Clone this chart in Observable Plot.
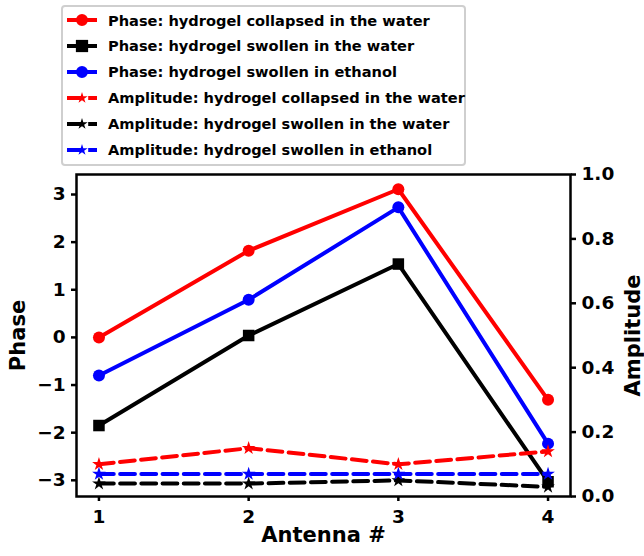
<!DOCTYPE html>
<html>
<head>
<meta charset="utf-8">
<script src="https://cdn.jsdelivr.net/npm/d3@7"></script>
<script src="https://cdn.jsdelivr.net/npm/@observablehq/plot@0.6"></script>
<style>
  html, body { margin: 0; padding: 0; background: #fff; }
  #wrap { position: relative; width: 644px; height: 556px; font-family: "DejaVu Sans", sans-serif; font-weight: bold; }
  #legend { position: absolute; left: 61px; top: 5px; width: 401px; height: 157px; border: 2px solid #cfcfcf; border-radius: 4px; background: #fff; }
  .row { position: absolute; left: 0; height: 26px; display: flex; align-items: center; }
  .row svg { margin-left: 3px; }
  .row span { margin-left: 10px; font-size: 14.6px; font-weight: bold; color: #000; white-space: nowrap; }
</style>
</head>
<body>
<div id="wrap"><div id="chart"></div><div id="legend"></div></div>
<script>
const antennas = [1, 2, 3, 4];
const phaseCollapsedWater = [0.0, 1.82, 3.11, -1.31];
const phaseSwollenWater = [-1.85, 0.04, 1.54, -3.03];
const phaseSwollenEthanol = [-0.80, 0.79, 2.73, -2.23];
const ampCollapsedWater = [0.10, 0.15, 0.10, 0.14];
const ampSwollenWater = [0.04, 0.04, 0.05, 0.03];
const ampSwollenEthanol = [0.07, 0.07, 0.07, 0.07];
const seriesLabels = [
  "Phase: hydrogel collapsed in the water",
  "Phase: hydrogel swollen in the water",
  "Phase: hydrogel swollen in ethanol",
  "Amplitude: hydrogel collapsed in the water",
  "Amplitude: hydrogel swollen in the water",
  "Amplitude: hydrogel swollen in ethanol"
];
const seriesColors = ["#ff0000", "#000000", "#0000ff", "#ff0000", "#000000", "#0000ff"];
const phaseTicks = [-3, -2, -1, 0, 1, 2, 3];
const ampTicks = [0.0, 0.2, 0.4, 0.6, 0.8, 1.0];
const xTicks = [1, 2, 3, 4];

const yLo = -3.34, yHi = 3.42;
const toPhase = a => yLo + a * (yHi - yLo);
const fromPhase = p => (p - yLo) / (yHi - yLo);

const phaseSeries = [phaseCollapsedWater, phaseSwollenWater, phaseSwollenEthanol];
const ampSeries = [ampCollapsedWater, ampSwollenWater, ampSwollenEthanol];
const phaseSymbols = ["circle", "square", "circle"];

const marks = [];
phaseSeries.forEach((vals, i) => {
  const data = antennas.map((x, j) => ({x, y: vals[j]}));
  marks.push(Plot.line(data, {x: "x", y: "y", stroke: seriesColors[i], strokeWidth: 4}));
  marks.push(Plot.dot(data, {x: "x", y: "y", fill: seriesColors[i], stroke: "none", symbol: phaseSymbols[i], r: phaseSymbols[i] === "square" ? 6.5 : 6}));
});
ampSeries.forEach((vals, i) => {
  const data = antennas.map((x, j) => ({x, y: toPhase(vals[j])}));
  marks.push(Plot.line(data, {x: "x", y: "y", stroke: seriesColors[i + 3], strokeWidth: 4, strokeDasharray: "14.8,6.4"}));
  marks.push(Plot.dot(data, {x: "x", y: "y", fill: seriesColors[i + 3], stroke: "none", symbol: "star", r: 4.3}));
});

const chart = Plot.plot({
  width: 644,
  height: 556,
  marginLeft: 76,
  marginRight: 74,
  marginTop: 174,
  marginBottom: 60,
  style: {fontFamily: "DejaVu Sans", fontWeight: "bold", fontSize: "18.5px", background: "white"},
  x: {domain: [0.85, 4.15]},
  y: {domain: [yLo, yHi]},
  marks: [
    ...marks,
    Plot.frame({stroke: "black", strokeWidth: 2.5}),
    Plot.axisX({ticks: xTicks, tickSize: 5, strokeWidth: 2.5, tickPadding: 8, label: null, fontSize: 18.5, tickFormat: d => String(d)}),
    Plot.axisY({ticks: phaseTicks, tickSize: 5, strokeWidth: 2.5, tickPadding: 6, label: null, fontSize: 18.5, tickFormat: d => d < 0 ? "\u2212" + Math.abs(d) : String(d)}),
    Plot.axisY({anchor: "right", ticks: ampTicks.map(toPhase), tickSize: 5, strokeWidth: 2.5, tickPadding: 6, label: null, fontSize: 18.5, tickFormat: v => d3.format(".1f")(fromPhase(v))}),
    Plot.text(["Antenna #"], {frameAnchor: "bottom", dy: 45, fontSize: 21, fontWeight: "bold"}),
    Plot.text(["Phase"], {frameAnchor: "left", textAnchor: "middle", dx: -58, rotate: -90, fontSize: 21, fontWeight: "bold"}),
    Plot.text(["Amplitude"], {frameAnchor: "right", textAnchor: "middle", dx: 63, rotate: -90, fontSize: 21, fontWeight: "bold"})
  ]
});
document.getElementById("chart").appendChild(chart);

// Legend
const legend = document.getElementById("legend");
seriesLabels.forEach((label, i) => {
  const row = document.createElement("div");
  row.className = "row";
  row.style.top = (0 + i * 25.9) + "px";
  const ns = "http://www.w3.org/2000/svg";
  const svg = document.createElementNS(ns, "svg");
  svg.setAttribute("width", 32);
  svg.setAttribute("height", 14);
  const line = document.createElementNS(ns, "line");
  line.setAttribute("x1", 1); line.setAttribute("x2", 31);
  line.setAttribute("y1", 7); line.setAttribute("y2", 7);
  line.setAttribute("stroke", seriesColors[i]);
  line.setAttribute("stroke-width", 4);
  if (i >= 3) line.setAttribute("stroke-dasharray", "14.8,6.4");
  svg.appendChild(line);
  let sym;
  if (i < 3) sym = phaseSymbols[i] === "square" ? d3.symbolSquare : d3.symbolCircle;
  else sym = d3.symbolStar;
  const size = i < 3 ? (phaseSymbols[i] === "square" ? 150 : 113) : 40;
  const path = document.createElementNS(ns, "path");
  path.setAttribute("d", d3.symbol(sym, size)());
  path.setAttribute("transform", "translate(16,7)");
  path.setAttribute("fill", seriesColors[i]);
  svg.appendChild(path);
  row.appendChild(svg);
  const span = document.createElement("span");
  span.textContent = label;
  row.appendChild(span);
  legend.appendChild(row);
});
</script>
</body>
</html>
